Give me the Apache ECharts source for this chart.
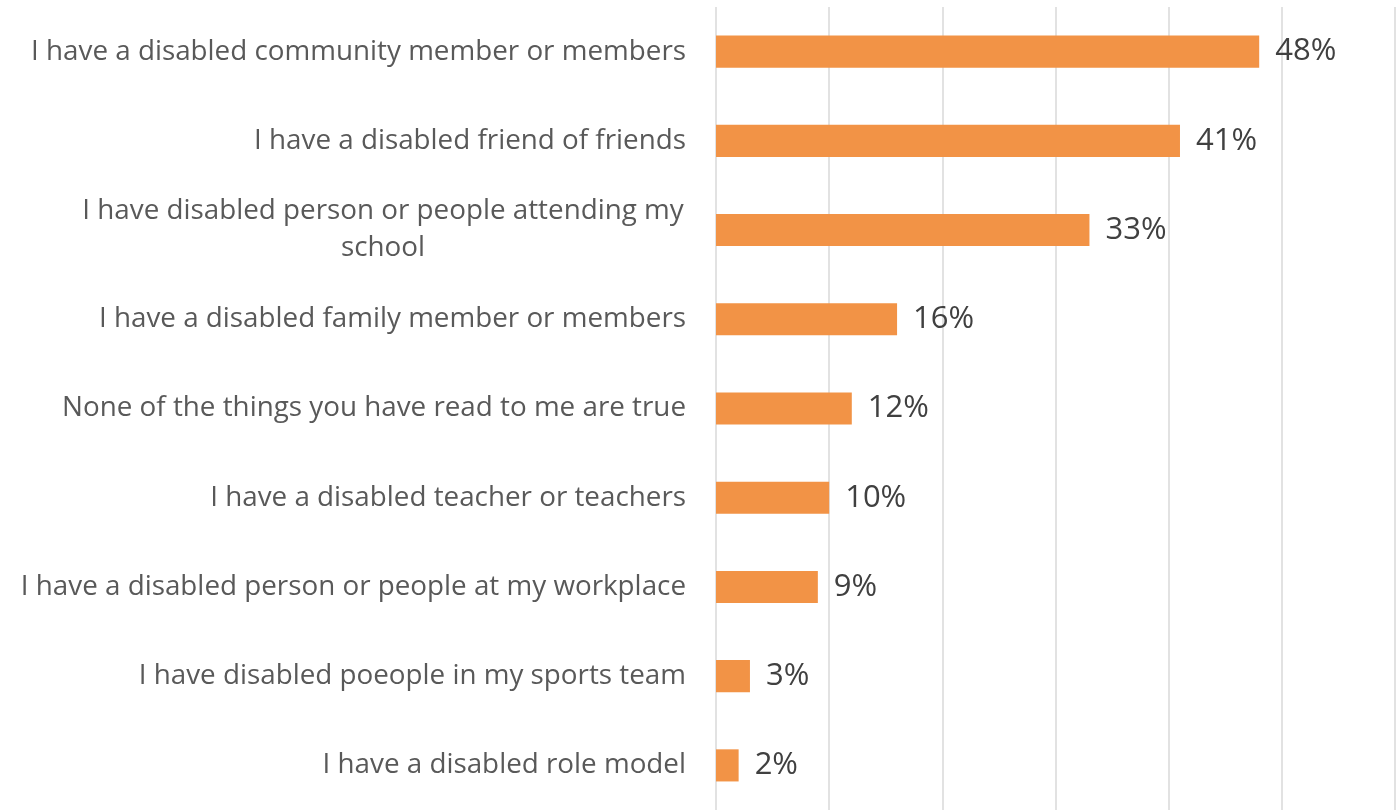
<!DOCTYPE html>
<html><head><meta charset="utf-8">
<script src="https://cdn.jsdelivr.net/npm/echarts@6/dist/echarts.min.js"></script>
<style>html,body{margin:0;padding:0;background:#fff}#c{width:1400px;height:810px}</style>
</head><body><div id="c"></div>
<script>
const categories = [
  "I have a disabled community member or members",
  "I have a disabled friend of friends",
  "I have disabled person or people attending my\nschool",
  "I have a disabled family member or members",
  "None of the things you have read to me are true",
  "I have a disabled teacher or teachers",
  "I have a disabled person or people at my workplace",
  "I have disabled poeople in my sports team",
  "I have a disabled role model"
];
const values = [48, 41, 33, 16, 12, 10, 9, 3, 2];
const xTicks = [0, 10, 20, 30, 40, 50, 60];

const chart = echarts.init(document.getElementById('c'));
chart.setOption({
  animation: false,
  backgroundColor: '#ffffff',
  grid: { left: 716, right: 5, top: 7, bottom: -5, containLabel: false },
  xAxis: {
    type: 'value', min: xTicks[0], max: xTicks[xTicks.length - 1], interval: 10,
    axisLabel: { show: false }, axisLine: { show: false }, axisTick: { show: false },
    splitLine: { show: true, lineStyle: { color: '#d9d9d9', width: 1.5 } }
  },
  yAxis: {
    type: 'category', inverse: true, data: categories,
    axisLine: { show: false }, axisTick: { show: false },
    axisLabel: {
      margin: 30,
      fontFamily: 'Open Sans', fontSize: 27.8, color: '#595959', lineHeight: 37,
      formatter: function (v) {
        if (v.indexOf('\n') >= 0) {
          return v.split('\n').map(l => '{c|' + l + '}').join('\n');
        }
        return v;
      },
      rich: { c: { width: 606, align: 'center', fontFamily: 'Open Sans', fontSize: 27.8, color: '#595959', lineHeight: 37 } }
    }
  },
  series: [{
    type: 'bar', data: values, barCategoryGap: '64%',
    itemStyle: { color: '#f29346' },
    label: {
      show: true, position: 'right', distance: 16,
      formatter: p => p.value + '%',
      fontFamily: 'Open Sans', fontSize: 31, color: '#404040'
    }
  }]
});
</script></body></html>
